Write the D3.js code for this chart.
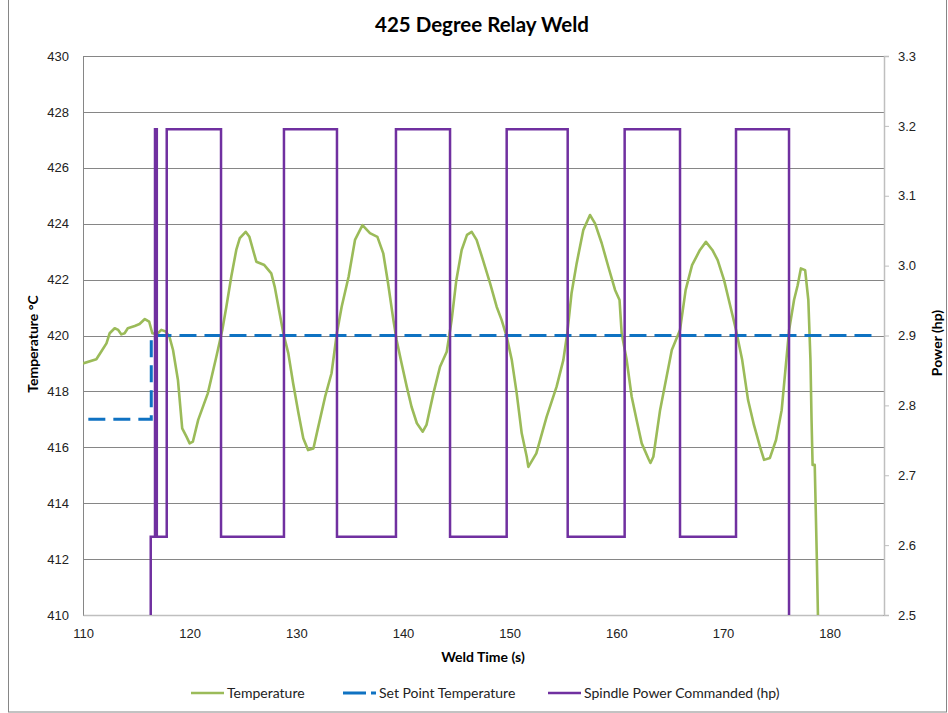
<!DOCTYPE html>
<html>
<head>
<meta charset="utf-8">
<script src="https://cdn.jsdelivr.net/npm/d3@7"></script>
<style>
  body { margin: 0; background: #fff; }
  svg { display: block; font-family: Lato, "Open Sans", "Liberation Sans", sans-serif; }
</style>
</head>
<body>
<svg id="chart" width="948" height="713"></svg>
<script>
// ---- data ----
const tempTime = [110.0, 111.25, 111.7, 112.2, 112.5, 112.97, 113.3, 113.6, 113.9, 114.2, 114.85, 115.3, 115.8, 116.2, 116.5, 116.94, 117.34, 117.75,
  118.1, 118.44, 118.9, 119.3, 119.7, 120.0, 120.3, 120.8, 121.7, 122.5, 123.06, 123.44, 123.9, 124.37, 124.7, 125.25, 125.6, 126.25, 127.0, 127.65,
  127.97, 128.44, 128.78, 129.25, 129.7, 130.2, 130.65, 131.1, 131.6, 132.06, 132.7, 133.3, 133.8, 134.25, 134.9, 135.5, 136.2, 136.9, 137.6, 138.15,
  138.6, 139.1, 139.4, 139.87, 140.35, 140.8, 141.3, 141.85, 142.2, 142.85, 143.47, 144.1, 144.56, 145.0, 145.5, 146.0, 146.44, 146.9, 147.5, 148.16,
  148.78, 149.25, 149.72, 150.2, 150.66, 151.13, 151.6, 151.75, 152.5, 153.47, 154.4, 155.03, 155.4, 155.8, 156.28, 156.9, 157.53, 158.0, 158.63, 159.25,
  159.88, 160.3, 160.5, 160.97, 161.44, 161.9, 162.38, 163.0, 163.2, 163.47, 164.1, 164.56, 165.2, 165.97, 166.5, 167.1, 167.84, 168.4, 169.0, 169.5,
  170.1, 170.66, 171.22, 171.8, 172.35, 172.9, 173.5, 173.85, 174.4, 174.97, 175.5, 176.2, 176.66, 177.0, 177.3, 177.7, 178.0, 178.2, 178.3, 178.4,
  178.6, 178.8, 178.9];
const tempC = [419.0, 419.15, 419.42, 419.72, 420.08, 420.26, 420.2, 420.04, 420.08, 420.26, 420.34, 420.41, 420.59, 420.5, 420.08, 420.05, 420.2, 420.14,
  419.96, 419.48, 418.41, 416.68, 416.38, 416.14, 416.2, 416.98, 417.93, 419.24, 420.2, 421.03, 422.1, 423.06, 423.48, 423.71, 423.53, 422.64, 422.52, 422.22,
  421.75, 420.79, 420.08, 419.36, 418.29, 417.22, 416.32, 415.9, 415.96, 416.74, 417.81, 418.65, 420.08, 421.03, 422.1, 423.42, 423.95, 423.66, 423.53, 422.94,
  421.87, 420.55, 419.84, 419.0, 418.17, 417.45, 416.86, 416.56, 416.8, 417.93, 418.88, 419.42, 420.55, 421.98, 423.06, 423.6, 423.71, 423.42, 422.7, 421.87,
  421.03, 420.55, 419.96, 419.12, 417.93, 416.5, 415.66, 415.3, 415.78, 417.1, 418.17, 419.12, 420.08, 421.51, 422.58, 423.77, 424.31, 424.01, 423.3, 422.46,
  421.63, 421.27, 420.08, 419.12, 417.81, 416.98, 416.14, 415.6, 415.44, 415.66, 417.33, 418.23, 419.48, 420.2, 421.63, 422.52, 423.06, 423.35, 423.06, 422.7,
  421.98, 421.09, 420.2, 419.12, 417.69, 416.8, 415.98, 415.55, 415.62, 416.26, 417.33, 420.2, 421.27, 421.8, 422.4, 422.34, 421.27, 419.12, 417.0, 415.37,
  415.37, 411.97, 410.0];

const setTime = [110.5, 116.4, 116.4, 184.5];
const setTempC = [417, 417, 420, 420];

const powerTime = [116.35, 116.35, 116.75, 116.92, 117.85, 122.94, 128.84, 133.81, 139.34, 144.41, 149.72, 155.44, 160.78, 165.97, 171.22, 176.19];
const powerHp = [2.5, 2.612, 3.195, 2.612, 3.195, 2.612, 3.195, 2.612, 3.195, 2.612, 3.195, 2.612, 3.195, 2.612, 3.195, 2.5];

const timeTicks = [110, 120, 130, 140, 150, 160, 170, 180];
const tempTicks = [410, 412, 414, 416, 418, 420, 422, 424, 426, 428, 430];
const powerTicks = [2.5, 2.6, 2.7, 2.8, 2.9, 3.0, 3.1, 3.2, 3.3];

// ---- layout ----
const svg = d3.select("#chart");
const L = 83, R = 884, T = 56, B = 615;

const x = d3.scaleLinear().domain([110, 185]).range([L, R - 1]);
const y = d3.scaleLinear().domain([410, 430]).range([B, T]);
const y2 = d3.scaleLinear().domain([2.5, 3.3]).range([B, T]);

// outer chart border
svg.append("rect").attr("x", 8.5).attr("y", -1).attr("width", 938).attr("height", 713)
  .attr("fill", "none").attr("stroke", "#868686").attr("stroke-width", 1);

// horizontal gridlines
svg.append("g").attr("transform", `translate(${L},0)`)
  .call(d3.axisLeft(y).tickValues(tempTicks).tickSize(-(R - L)).tickFormat(""))
  .call(g => g.select(".domain").remove())
  .call(g => g.selectAll(".tick line").attr("stroke", "#868686").attr("shape-rendering", "crispEdges"));

// left axis
svg.append("g").attr("transform", `translate(${L},0)`)
  .call(d3.axisLeft(y).tickValues(tempTicks).tickSize(0).tickPadding(14).tickFormat(d3.format("d")))
  .call(g => g.select(".domain").attr("stroke", "#868686").attr("shape-rendering", "crispEdges"))
  .call(g => g.selectAll("text").attr("font-size", 13).attr("fill", "#222"));

// right axis
svg.append("g").attr("transform", `translate(${R},0)`)
  .call(d3.axisRight(y2).tickValues(powerTicks).tickSize(5).tickPadding(9).tickFormat(d3.format(".1f")))
  .call(g => g.select(".domain").attr("stroke", "#bfbfbf").attr("stroke-width", 1.5))
  .call(g => g.selectAll(".tick line").attr("stroke", "#bfbfbf"))
  .call(g => g.selectAll("text").attr("font-size", 13).attr("fill", "#222"));

// bottom axis
svg.append("g").attr("transform", `translate(0,${B})`)
  .call(d3.axisBottom(x).tickValues(timeTicks).tickSize(0).tickPadding(14).tickFormat(d3.format("d")))
  .call(g => g.select(".domain").attr("stroke", "#bfbfbf").attr("stroke-width", 1.5))
  .call(g => g.selectAll("text").attr("font-size", 13).attr("fill", "#222"));

// clip region for series
svg.append("clipPath").attr("id", "plot")
  .append("rect").attr("x", L).attr("y", T - 2).attr("width", R - L).attr("height", B - T + 2);

const series = svg.append("g").attr("clip-path", "url(#plot)");

const tempLine = d3.line().x(i => x(tempTime[i])).y(i => y(tempC[i]));
series.append("path").attr("d", tempLine(d3.range(tempTime.length)))
  .attr("fill", "none").attr("stroke", "#9BBB59").attr("stroke-width", 2.6).attr("stroke-linejoin", "round");

const setLine = d3.line().x(i => x(setTime[i])).y(i => y(setTempC[i]));
series.append("path").attr("d", setLine(d3.range(setTime.length)))
  .attr("fill", "none").attr("stroke", "#0F72C2").attr("stroke-width", 3).attr("stroke-dasharray", "17,8");

const powerLine = d3.line().x(i => x(powerTime[i])).y(i => y2(powerHp[i])).curve(d3.curveStepAfter);
series.append("path").attr("d", powerLine(d3.range(powerTime.length)))
  .attr("fill", "none").attr("stroke", "#7030A0").attr("stroke-width", 2.5);

// titles
svg.append("text").attr("x", 482).attr("y", 32).attr("text-anchor", "middle")
  .attr("font-size", 20.5).attr("font-weight", "bold").attr("fill", "#000").text("425 Degree Relay Weld");
svg.append("text").attr("x", 483).attr("y", 662).attr("text-anchor", "middle")
  .attr("font-size", 14).attr("font-weight", "bold").attr("fill", "#000").text("Weld Time (s)");
svg.append("text").attr("transform", "translate(38,344) rotate(-90)").attr("text-anchor", "middle")
  .attr("font-size", 14).attr("font-weight", "bold").attr("fill", "#000").text("Temperature °C");
svg.append("text").attr("transform", "translate(942,343) rotate(-90)").attr("text-anchor", "middle")
  .attr("font-size", 14).attr("font-weight", "bold").attr("fill", "#000").text("Power (hp)");

// legend
const legend = [
  { label: "Temperature", color: "#9BBB59", x: 191, dash: null, w: 2.5 },
  { label: "Set Point Temperature", color: "#0F72C2", x: 343, dash: "23,5", w: 3 },
  { label: "Spindle Power Commanded (hp)", color: "#7030A0", x: 548, dash: null, w: 2.5 }
];
const lg = svg.append("g");
legend.forEach(d => {
  lg.append("line").attr("x1", d.x).attr("x2", d.x + 33).attr("y1", 693).attr("y2", 693)
    .attr("stroke", d.color).attr("stroke-width", d.w).attr("stroke-dasharray", d.dash);
  lg.append("text").attr("x", d.x + 36).attr("y", 698).attr("font-size", 14).attr("fill", "#222").text(d.label);
});
</script>
</body>
</html>
